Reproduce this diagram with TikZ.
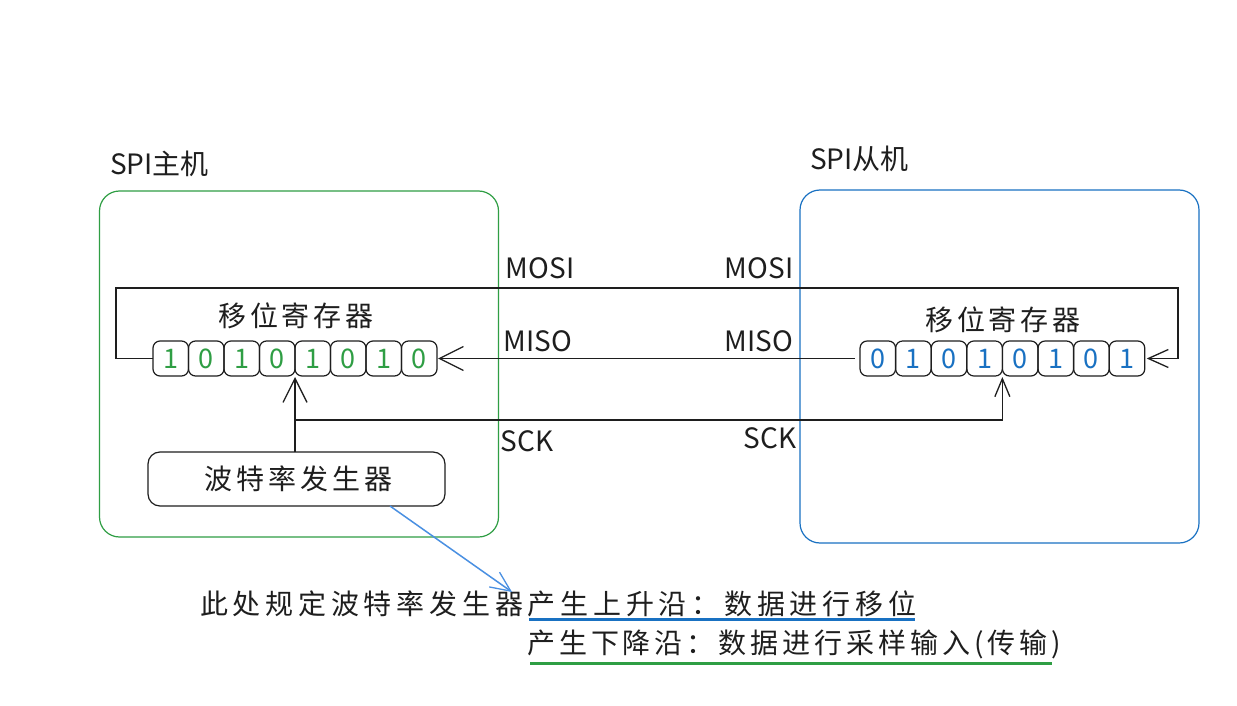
\documentclass[tikz,border=0pt]{standalone}
\usepackage{fontspec}
\newfontfamily\cjk{Noto Sans CJK SC}[LetterSpace=14]
\newfontfamily\cjkwide{Noto Sans CJK SC}[LetterSpace=17]
\newfontfamily\lat{Noto Sans CJK SC}
\usetikzlibrary{arrows.meta}
\definecolor{ink}{HTML}{1E1E1E}
\definecolor{exgreen}{HTML}{2F9E44}
\definecolor{exblue}{HTML}{1971C2}
\definecolor{noteblue}{HTML}{4A90E2}
\tikzset{
  wire/.style={draw=ink, line width=1.3pt},
  bigbarb/.style={-{Straight Barb[length=24pt,width=24pt,line width=1.3pt]}},
  midbarb/.style={-{Straight Barb[length=20pt,width=18pt,line width=1.3pt]}},
  smallbarb/.style={-{Straight Barb[length=18pt,width=15pt,line width=1.3pt]}},
  cell/.style={draw=ink, line width=1.2pt, rounded corners=7pt, minimum width=35.5pt,
    minimum height=35pt, inner sep=0pt, outer sep=0pt, font=\lat\fontsize{27}{27}\selectfont},
  cjklbl/.style={inner sep=0pt, font=\cjk\fontsize{28}{30}\selectfont, text=ink},
  notelbl/.style={inner sep=0pt, font=\cjkwide\fontsize{28}{30}\selectfont, text=ink},
  latlbl/.style={inner sep=0pt, font=\lat\fontsize{28}{30}\selectfont, text=ink},
  hostbox/.style={line width=1.2pt, rounded corners=20pt, outer sep=0pt}
}
\begin{document}
\begin{tikzpicture}[x=1pt,y=-1pt]
\useasboundingbox (0,0) rectangle (1237,706);
\fill[white] (0,0) rectangle (1237,706);

% host boxes
\node[hostbox, draw=exgreen, minimum width=399pt, minimum height=346pt] (master) at (299,364) {};
\node[hostbox, draw=exblue, minimum width=399pt, minimum height=353pt] (slave) at (999.5,366.5) {};
\node[latlbl, anchor=west] (mtitle) at (110,164) {SPI主机};
\node[latlbl, anchor=west] (stitle) at (810,159) {SPI从机};

% registers
\foreach \i/\d in {1/1,2/0,3/1,4/0,5/1,6/0,7/1,8/0}
  \node[cell, text=exgreen] (m\i) at ({153+35.5*(\i-0.5)},358.5) {\d};
\foreach \i/\d in {1/0,2/1,3/0,4/1,5/0,6/1,7/0,8/1}
  \node[cell, text=exblue] (s\i) at ({860+35.6*(\i-0.5)},358.5) {\d};
\node[cjklbl] (mreg) at (296,316) {移位寄存器};
\node[cjklbl] (sreg) at (1003,320) {移位寄存器};

% baud generator
\node[draw=ink, line width=1.2pt, rounded corners=12pt, minimum width=297pt, minimum height=54pt,
  outer sep=0pt, cjklbl] (gen) at (296.5,479) {\hspace*{4pt}波特率发生器};

% MOSI loop
\coordinate (fbL) at (116,288);
\coordinate (fbR) at (1178,288);
\draw[wire, midbarb] (m1.west) -| (fbL) -- (fbR) |- ([xshift=2pt]s8.east);
% MISO
\draw[wire, bigbarb] ([xshift=-5pt]s1.west) -- ([xshift=1pt]m8.east);
% SCK
\coordinate (sckY) at (0,420);
\draw[wire, bigbarb] (m4.south east |- gen.north) -- ([yshift=-1pt]m4.south east);
\draw[wire, smallbarb] (m4.south east |- sckY) -| ([yshift=-1pt]s4.south east);

% wire labels
\node[latlbl] (mosiL) at (540,268) {MOSI};
\node[latlbl] (mosiR) at (759,268) {MOSI};
\node[latlbl] (misoL) at (538,341) {MISO};
\node[latlbl] (misoR) at (759,341) {MISO};
\node[latlbl] (sckL) at (527,441) {SCK};
\node[latlbl] (sckR) at (770,438) {SCK};

% note
\node[notelbl, anchor=base west] (l1) at (200,614) {此处规定波特率发生器产生上升沿：数据进行移位};
\node[cjklbl, anchor=base west] (l2) at (527,653) {产生下降沿：数据进行采样输入(传输)};
\coordinate (noteTip) at (512,592);
\draw[noteblue, line width=1.5pt, -{Straight Barb[length=20pt,width=18pt,line width=1.3pt]}]
  ([xshift=93.5pt]gen.south) -- (noteTip);
\draw[exblue, line width=3pt] (529,619) -- (915,619);
\draw[exgreen, line width=3pt] (530,663) -- (1052,663);
\end{tikzpicture}
\end{document}
